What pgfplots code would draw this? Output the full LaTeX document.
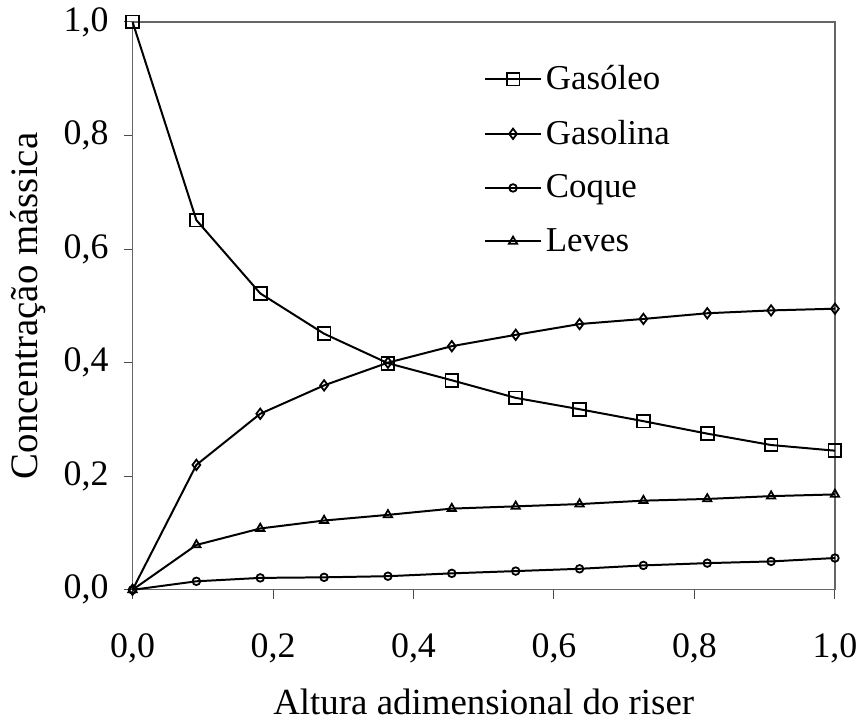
\documentclass[border=0pt]{standalone}
\usepackage{pgfplots}
\pgfplotsset{compat=1.18}
\usepackage{fontspec}
\setmainfont{Liberation Serif}
\begin{document}
\begin{tikzpicture}
\begin{axis}[
  scale only axis,
  width=352.5pt, height=285pt,
  xmin=0, xmax=1, ymin=0, ymax=1,
  xtick={0,0.2,0.4,0.6,0.8,1.0},
  ytick={0,0.2,0.4,0.6,0.8,1.0},
  tick align=outside,
  xtick pos=bottom, ytick pos=left,
  major tick length=4.5pt,
  tick style={black!70, line width=0.5pt},
  axis line style={black!60, line width=0.6pt},
  /pgf/number format/.cd, use comma, fixed, fixed zerofill, precision=1, assume math mode=true,
  /pgfplots/.cd,
  tick label style={font=\fontsize{18}{20}\selectfont},
  xlabel style={font=\fontsize{18.5}{21}\selectfont, yshift=-6pt},
  ylabel style={font=\fontsize{19.5}{22}\selectfont, yshift=2pt},
  xlabel={Altura adimensional do riser},
  ylabel={Concentração mássica},
  xticklabel style={yshift=-14pt},
  yticklabel style={xshift=-4pt},
  clip=false,
  legend style={draw=none, fill=none, at={(0.50,0.931)}, anchor=north west,
    font=\fontsize{17.5}{20}\selectfont, row sep=9.8pt, inner sep=0pt},
  legend cell align=left,
  legend image code/.code={
    \draw[#1] (0pt,0pt) -- (28pt,0pt);
    \draw[#1, only marks] plot coordinates {(14pt,0pt)};
  },
  every axis plot/.append style={black, line width=1pt, mark options={solid, fill=white, line width=0.9pt}},
]
\path (rel axis cs:-0.1887,-0.2333) rectangle (rel axis cs:1.0369,1.0386);
\addplot[mark=square, mark size=3.2pt] coordinates {
(0,1.0) (0.0909,0.651) (0.1818,0.522) (0.2727,0.451) (0.3636,0.399) (0.4545,0.369)
(0.5455,0.338) (0.6364,0.318) (0.7273,0.297) (0.8182,0.275) (0.9091,0.255) (1.0,0.245)};
\addlegendentry{Gasóleo}
\addplot[mark=diamond, mark size=2.6pt] coordinates {
(0,0) (0.0909,0.220) (0.1818,0.310) (0.2727,0.360) (0.3636,0.400) (0.4545,0.429)
(0.5455,0.449) (0.6364,0.468) (0.7273,0.477) (0.8182,0.487) (0.9091,0.492) (1.0,0.495)};
\addlegendentry{Gasolina}
\addplot[mark=o, mark size=1.9pt] coordinates {
(0,0) (0.0909,0.015) (0.1818,0.021) (0.2727,0.022) (0.3636,0.024) (0.4545,0.029)
(0.5455,0.033) (0.6364,0.037) (0.7273,0.043) (0.8182,0.047) (0.9091,0.050) (1.0,0.056)};
\addlegendentry{Coque}
\addplot[mark=triangle, mark size=2.4pt] coordinates {
(0,0) (0.0909,0.079) (0.1818,0.108) (0.2727,0.122) (0.3636,0.132) (0.4545,0.143)
(0.5455,0.147) (0.6364,0.151) (0.7273,0.157) (0.8182,0.160) (0.9091,0.165) (1.0,0.168)};
\addlegendentry{Leves}
\end{axis}
\end{tikzpicture}
\end{document}
